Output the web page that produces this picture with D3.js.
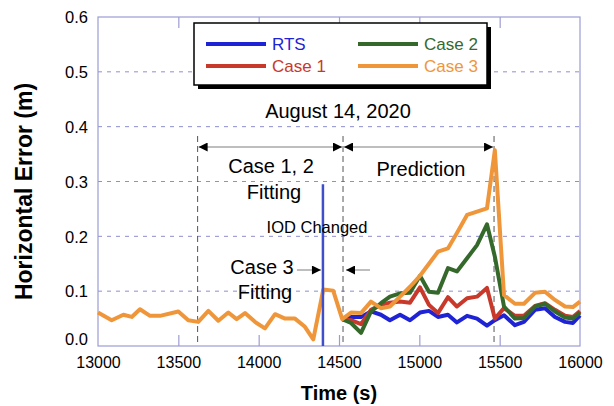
<!DOCTYPE html>
<html>
<head>
<meta charset="utf-8">
<script src="https://cdn.jsdelivr.net/npm/d3@7/dist/d3.min.js"></script>
<style>
  html, body { margin: 0; padding: 0; background: #fff; }
  svg { display: block; font-family: "Liberation Sans", Arial, sans-serif; }
</style>
</head>
<body>
<svg id="chart" width="614" height="406"></svg>
<script>
// Case 3 fitting span (orange only)
const fitTimes = [13000, 13085, 13158, 13210, 13261, 13324, 13386, 13500, 13562, 13624, 13687, 13749,
                  13811, 13863, 13915, 13977, 14039, 14102, 14164, 14226, 14288, 14340, 14402, 14464];
const case3Fit = [0.061, 0.047, 0.057, 0.053, 0.067, 0.055, 0.055, 0.063, 0.047, 0.044, 0.064, 0.046,
                  0.061, 0.049, 0.060, 0.044, 0.032, 0.058, 0.050, 0.050, 0.035, 0.012, 0.103, 0.101];

// Prediction span (all four series)
const predTimes = [14520, 14575, 14637, 14699, 14761, 14817, 14880, 14942, 15004, 15060, 15116, 15178, 15234,
                   15297, 15359, 15421, 15470, 15527, 15595, 15651, 15720, 15782, 15844, 15907, 15956, 16000];
const rts   = [0.049, 0.053, 0.053, 0.063, 0.057, 0.047, 0.057, 0.047, 0.061, 0.064, 0.053, 0.057, 0.043,
               0.055, 0.050, 0.037, 0.047, 0.056, 0.038, 0.044, 0.066, 0.069, 0.053, 0.044, 0.042, 0.056];
const case1 = [0.049, 0.047, 0.040, 0.066, 0.075, 0.079, 0.081, 0.079, 0.107, 0.075, 0.060, 0.089, 0.072,
               0.087, 0.090, 0.106, 0.050, 0.069, 0.055, 0.055, 0.073, 0.078, 0.066, 0.055, 0.053, 0.064];
const case2 = [0.049, 0.042, 0.024, 0.063, 0.078, 0.090, 0.096, 0.097, 0.128, 0.099, 0.097, 0.142, 0.136,
               0.160, 0.184, 0.222, 0.163, 0.072, 0.050, 0.051, 0.072, 0.077, 0.063, 0.052, 0.050, 0.061];
const case3Pred = [0.049, 0.061, 0.060, 0.081, 0.069, 0.072, 0.090, 0.108, 0.128, 0.150, 0.172, 0.178, 0.206,
                   0.239, 0.245, 0.251, 0.357, 0.093, 0.077, 0.077, 0.097, 0.099, 0.084, 0.072, 0.071, 0.081];

const seriesNames = ["RTS", "Case 1", "Case 2", "Case 3"];
const seriesColors = ["#1f23d6", "#c8392b", "#35692b", "#f0963a"];

const xTicks = [13000, 13500, 14000, 14500, 15000, 15500, 16000];
const yTicks = [0.0, 0.1, 0.2, 0.3, 0.4, 0.5, 0.6];

// Phase boundaries (s) and IOD change
const fitStart12 = 13620, predStart = 14525, predEnd = 15465, iodTime = 14400, iodTop = 0.295;

const svg = d3.select("#chart");
const pLeft = 98, pRight = 580, pTop = 17, pBottom = 346;
const x = d3.scaleLinear().domain([13000, 16000]).range([pLeft, pRight]);
const y = d3.scaleLinear().domain([0, 0.6]).range([pBottom, pTop]);
const axisColor = "#9c9cd4";

// grid
svg.append("g").selectAll("line").data(yTicks.filter(d => d > 0 && d < 0.6)).join("line")
  .attr("x1", pLeft).attr("x2", pRight).attr("y1", d => y(d)).attr("y2", d => y(d))
  .attr("stroke", "#8e8ed0").attr("stroke-width", 1).attr("stroke-dasharray", "4,5");

// frame
svg.append("rect").attr("x", pLeft).attr("y", pTop).attr("width", pRight - pLeft).attr("height", pBottom - pTop)
  .attr("fill", "none").attr("stroke", axisColor).attr("stroke-width", 1.2);

// bottom axis with inward ticks
const xAxis = svg.append("g").attr("transform", `translate(0,${pBottom})`)
  .call(d3.axisBottom(x).tickValues(xTicks).tickSize(-11).tickPadding(6).tickFormat(d3.format("d")));
xAxis.select(".domain").remove();
xAxis.selectAll(".tick line").attr("stroke", axisColor).attr("stroke-width", 1.2)
  .filter(d => d === 13000 || d === 16000).remove();
xAxis.selectAll(".tick text").attr("font-size", 16).attr("fill", "#000").attr("dy", "1.0em")
  .attr("font-family", "Liberation Sans, Arial, sans-serif");

// top axis ticks
const xTop = svg.append("g").attr("transform", `translate(0,${pTop})`)
  .call(d3.axisTop(x).tickValues(xTicks.slice(1, -1)).tickSize(-11).tickFormat(""));
xTop.select(".domain").remove();
xTop.selectAll(".tick line").attr("stroke", axisColor).attr("stroke-width", 1.2);

// left axis labels
const yAxis = svg.append("g").attr("transform", `translate(${pLeft},0)`)
  .call(d3.axisLeft(y).tickValues(yTicks).tickSize(0).tickPadding(10).tickFormat(d3.format(".1f")));
yAxis.select(".domain").remove();
yAxis.selectAll(".tick text").attr("font-size", 16.5).attr("fill", "#000")
  .attr("font-family", "Liberation Sans, Arial, sans-serif")
  .attr("dy", d => d === 0 ? "-0.1em" : "0.35em");

// axis titles
svg.append("text").attr("x", (pLeft + pRight) / 2).attr("y", 400).attr("text-anchor", "middle")
  .attr("font-size", 20).attr("font-weight", "bold").text("Time (s)");
svg.append("text").attr("transform", `translate(32,${(pTop + pBottom) / 2 + 10}) rotate(-90)`)
  .attr("text-anchor", "middle").attr("font-size", 23).attr("font-weight", "bold")
  .text("Horizontal Error (m)");

// phase boundary dashed verticals
svg.append("g").selectAll("line").data([fitStart12, predStart, predEnd]).join("line")
  .attr("x1", d => x(d)).attr("x2", d => x(d)).attr("y1", 136).attr("y2", pBottom)
  .attr("stroke", "#555").attr("stroke-width", 1).attr("stroke-dasharray", "6,4");

// arrows
const defs = svg.append("defs");
defs.append("marker").attr("id", "head").attr("viewBox", "0 0 10 10").attr("refX", 10).attr("refY", 5)
  .attr("markerWidth", 10).attr("markerHeight", 9).attr("markerUnits", "userSpaceOnUse")
  .attr("orient", "auto-start-reverse")
  .append("path").attr("d", "M0,0 L10,5 L0,10 Z").attr("fill", "#000");

function arrow(x1, x2, yy, start, end) {
  const l = svg.append("line").attr("x1", x1).attr("x2", x2).attr("y1", yy).attr("y2", yy)
    .attr("stroke", "#a8a8a8").attr("stroke-width", 1.5);
  if (start) l.attr("marker-start", "url(#head)");
  if (end) l.attr("marker-end", "url(#head)");
}
const arrowY = 147;
arrow(x(fitStart12) + 1, x(predStart) - 1, arrowY, true, true);
arrow(x(predStart) + 1, x(predEnd) - 1, arrowY, true, true);
arrow(x(iodTime) - 26, x(iodTime) - 2, 270, false, true);
arrow(x(predStart) + 27, x(predStart) + 3, 270, false, true);

// series lines
const line = d3.line().x(d => x(d[0])).y(d => y(d[1])).curve(d3.curveLinear);
const zip = (t, v) => t.map((tt, i) => [tt, v[i]]);
const seriesData = [
  zip(predTimes, rts),
  zip(predTimes, case1),
  zip(predTimes, case2),
  zip(fitTimes.concat(predTimes), case3Fit.concat(case3Pred))
];
svg.append("g").selectAll("path").data(seriesData).join("path")
  .attr("d", line).attr("fill", "none")
  .attr("stroke", (d, i) => seriesColors[i]).attr("stroke-width", 4)
  .attr("stroke-linejoin", "round").attr("stroke-linecap", "butt");

// IOD change marker
svg.append("line").attr("x1", x(iodTime)).attr("x2", x(iodTime)).attr("y1", y(iodTop)).attr("y2", pBottom)
  .attr("stroke", "#3f4fcc").attr("stroke-width", 2.5);

// annotation texts
const ann = (tx, ty, s, size) => svg.append("text").attr("x", tx).attr("y", ty)
  .attr("text-anchor", "middle").attr("font-size", size).attr("fill", "#000").text(s);
ann(338, 118, "August 14, 2020", 20);
ann(271, 173, "Case 1, 2", 20);
ann(274, 199, "Fitting", 20);
ann(421, 176, "Prediction", 20);
ann(317, 233, "IOD Changed", 16.5);
ann(262, 274, "Case 3", 20);
ann(265, 299, "Fitting", 20);

// legend
const lg = svg.append("g");
lg.append("rect").attr("x", 198).attr("y", 27).attr("width", 293).attr("height", 62).attr("fill", "#000");
lg.append("rect").attr("x", 194).attr("y", 23).attr("width", 293).attr("height", 62)
  .attr("fill", "#fff").attr("stroke", "#000").attr("stroke-width", 1.5);
const legendPos = [[206, 44], [206, 66], [358, 44], [358, 66]];
seriesNames.forEach((n, i) => {
  const [lx, ly] = legendPos[i];
  lg.append("line").attr("x1", lx).attr("x2", lx + 60).attr("y1", ly).attr("y2", ly)
    .attr("stroke", seriesColors[i]).attr("stroke-width", 4);
  lg.append("text").attr("x", lx + 66).attr("y", ly + 6).attr("font-size", 17)
    .attr("fill", seriesColors[i]).text(n);
});
</script>
</body>
</html>
